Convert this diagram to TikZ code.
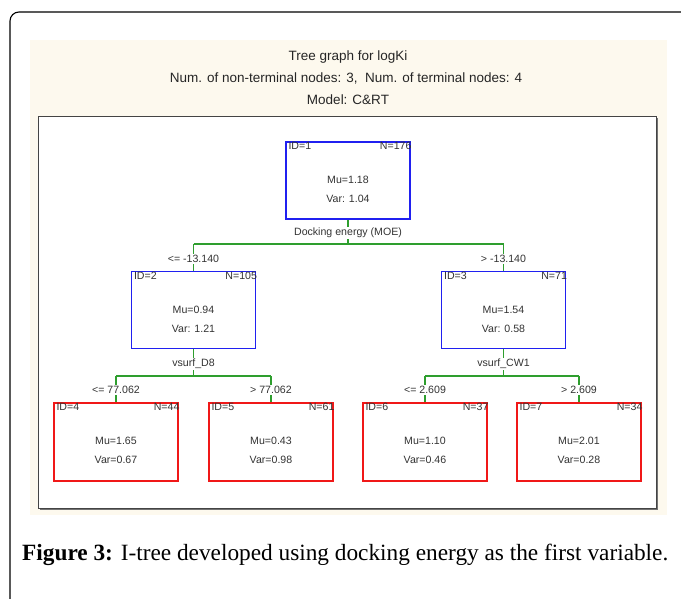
\documentclass[tikz,border=0pt]{standalone}
\usepackage{fontspec}
\setmainfont{Liberation Serif}
\newfontfamily\arialf{Liberation Sans}
\usetikzlibrary{calc}
\definecolor{panelbg}{HTML}{FDF9EE}
\definecolor{boxblue}{HTML}{2020F0}
\definecolor{boxred}{HTML}{F01818}
\definecolor{splitgreen}{HTML}{2E9E2E}
\definecolor{framegray}{HTML}{444444}
\tikzset{
  tbox/.style={draw, line width=1.3pt, minimum width=124pt, minimum height=77pt, inner sep=0pt},
  nonterm/.style={tbox, draw=boxblue},
  term/.style={tbox, draw=boxred, minimum height=78pt},
  smalltxt/.style={font=\arialf\fontsize{10.6}{12}\selectfont, text=black!80, inner sep=1pt},
  titletxt/.style={font=\arialf\fontsize{13.5}{15}\selectfont, text=black!85},
  splitline/.style={draw=splitgreen, line width=1.1pt},
  splitlabel/.style={smalltxt, fill=white, inner sep=1.5pt},
}
% #1 name, #2 x, #3 y (center), #4 style, #5 ID, #6 N, #7 mu line, #8 var line
\newcommand\treebox[8]{%
  \node[#4] (#1) at (#2,#3) {};
  \node[smalltxt, anchor=north west] (#1id) at ($(#1.north west)+(2,0)$) {#5};
  \node[smalltxt, anchor=north east] (#1n) at ($(#1.north east)+(2,0)$) {#6};
  \node[smalltxt] (#1mu) at ($(#1.north)+(0,39)$) {#7};
  \node[smalltxt] (#1var) at ($(#1.north)+(0,58)$) {#8};
}
\begin{document}
\begin{tikzpicture}[x=1pt,y=-1pt]
\useasboundingbox (0,0) rectangle (681,599);
% outer frame
\draw[line width=1.1pt, rounded corners=9pt] (10,600) -- (10,12) -- (682,12);
% panel
\fill[panelbg] (30,40) rectangle (667,515);
\node[titletxt] (t1) at (348,57) {Tree graph for logKi};
\node[titletxt] (t2) at (346,78) {Num. of non-terminal nodes: 3,\ \ Num. of terminal nodes: 4};
\node[titletxt] (t3) at (348,100) {Model: C\&RT};
% inner white area
\fill[black!55] (40,118) rectangle (658,510);
\filldraw[fill=white, draw=framegray, line width=0.8pt] (38,116) rectangle (656,508);

% boxes
\treebox{n1}{348}{180.5}{nonterm}{ID=1}{N=176}{Mu=1.18}{Var: 1.04}
\treebox{n2}{193.5}{310}{nonterm}{ID=2}{N=105}{Mu=0.94}{Var: 1.21}
\treebox{n3}{503.5}{310}{nonterm}{ID=3}{N=71}{Mu=1.54}{Var: 0.58}
\treebox{n4}{116}{442}{term}{ID=4}{N=44}{Mu=1.65}{Var=0.67}
\treebox{n5}{271}{442}{term}{ID=5}{N=61}{Mu=0.43}{Var=0.98}
\treebox{n6}{425}{442}{term}{ID=6}{N=37}{Mu=1.10}{Var=0.46}
\treebox{n7}{579}{442}{term}{ID=7}{N=34}{Mu=2.01}{Var=0.28}

% split 1
\coordinate (s1) at (348,244);
\coordinate (s1l) at (193.5,244);
\coordinate (s1r) at (503.5,244);
\draw[splitline] (n1.south) -- (s1);
\draw[splitline] (s1l) -- (s1r);
\draw[splitline] (s1l) -- (n2.north);
\draw[splitline] (s1r) -- (n3.north);
\node[splitlabel] (v1) at (348,233) {Docking energy (MOE)};
\node[splitlabel] (c2) at (193.5,259) {<= -13.140};
\node[splitlabel] (c3) at (503.5,259) {> -13.140};

% split 2
\coordinate (s2) at (193.5,376);
\coordinate (s2l) at (116,376);
\coordinate (s2r) at (271,376);
\draw[splitline] (n2.south) -- (s2);
\draw[splitline] (s2l) -- (s2r);
\draw[splitline] (s2l) -- (n4.north);
\draw[splitline] (s2r) -- (n5.north);
\node[splitlabel] (v2) at (193.5,364) {vsurf\_D8};
\node[splitlabel] (c4) at (116,390) {<= 77.062};
\node[splitlabel] (c5) at (271,390) {> 77.062};

% split 3
\coordinate (s3) at (503.5,376);
\coordinate (s3l) at (425,376);
\coordinate (s3r) at (579,376);
\draw[splitline] (n3.south) -- (s3);
\draw[splitline] (s3l) -- (s3r);
\draw[splitline] (s3l) -- (n6.north);
\draw[splitline] (s3r) -- (n7.north);
\node[splitlabel] (v3) at (503.5,364) {vsurf\_CW1};
\node[splitlabel] (c6) at (425,390) {<= 2.609};
\node[splitlabel] (c7) at (579,390) {> 2.609};

% caption
\node[anchor=base west, inner sep=0pt, font=\fontsize{23.3}{26}\selectfont] (cap) at (22,560)
  {\textbf{Figure 3:} I-tree developed using docking energy as the first variable.};
\end{tikzpicture}
\end{document}
